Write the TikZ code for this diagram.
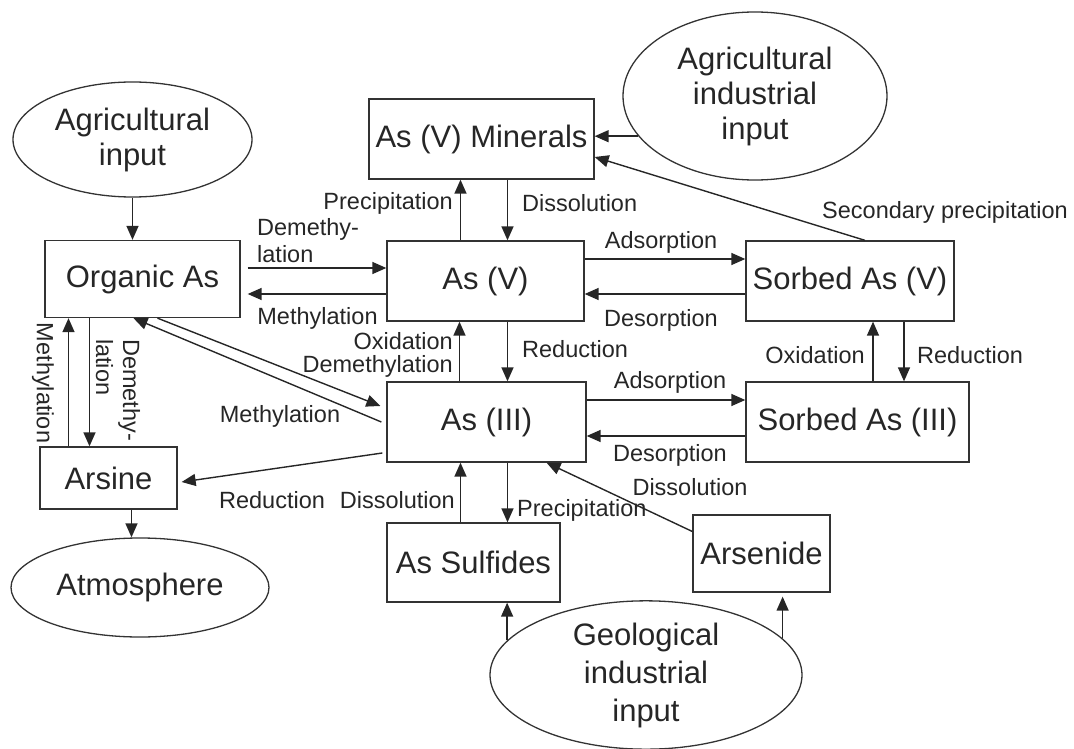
\documentclass[tikz,border=0pt]{standalone}
\usepackage{fontspec}
\setmainfont{Liberation Sans}
\usetikzlibrary{arrows.meta,shapes.geometric}

\begin{document}
\begin{tikzpicture}[x=1pt, y=-1pt,
  species/.style={draw=black!80, line width=1.3pt, inner sep=0pt,
                  font=\fontsize{31}{34}\selectfont, text=black!85},
  source/.style={ellipse, draw=black!80, line width=1.3pt, inner sep=0pt,
                 align=center, font=\fontsize{31}{35}\selectfont, text=black!85},
  flow/.style={-{Triangle[length=14pt,width=12pt]}, line width=1.4pt, black!85},
  process/.style={font=\fontsize{23.5}{27}\selectfont, inner sep=0pt,
                  text=black!85}
]
\useasboundingbox (0,0) rectangle (1074,749);

\node[source, minimum width=239pt, minimum height=115pt] (agin) at (132.5,139.5)
  {Agricultural\\input};
\node[source, minimum width=264pt, minimum height=168pt] (agind) at (755,96)
  {Agricultural\\industrial\\input};
\node[source, minimum width=258pt, minimum height=99pt] (atmos) at (140,587.5)
  {Atmosphere};
\node[source, minimum width=312pt, minimum height=146pt,
      font=\fontsize{31}{38}\selectfont] (geo) at (646,675)
  {Geological\\industrial\\input};

\node[species, minimum width=225pt, minimum height=80pt] (minerals) at (481.5,139)
  {As (V) Minerals};
\node[species, minimum width=195pt, minimum height=77pt] (orgas) at (142.5,279)
  {Organic As};
\node[species, minimum width=197pt, minimum height=80pt] (asv) at (485.5,281)
  {As (V)};
\node[species, minimum width=208pt, minimum height=80pt] (sasv) at (850,281)
  {Sorbed As (V)};
\node[species, minimum width=199pt, minimum height=80pt] (asiii) at (486.5,422)
  {As (III)};
\node[species, minimum width=223pt, minimum height=80pt] (sasiii) at (857.5,422)
  {Sorbed As (III)};
\node[species, minimum width=137pt, minimum height=62pt] (arsine) at (108.5,478)
  {Arsine};
\node[species, minimum width=173pt, minimum height=79pt] (sulfides) at (473.5,562.5)
  {As Sulfides};
\node[species, minimum width=137pt, minimum height=77pt] (arsenide) at (761.5,553.5)
  {Arsenide};

\draw[flow] (agin.south) -- (agin.south |- orgas.north);
\draw[flow] (agind.199) -- (agind.199 -| minerals.east);
\draw[flow] ([xshift=15pt]sasv.north) -- ([yshift=-18pt]minerals.east);
\draw[flow] ([xshift=-25pt]asv.north) -- ([xshift=-25pt]asv.north |- minerals.south);
\draw[flow] ([xshift=22pt]asv.north |- minerals.south) -- ([xshift=22pt]asv.north);
\draw[flow, shorten <=7pt] ([yshift=13pt]asv.west -| orgas.east) -- ([yshift=13pt]asv.west);
\draw[flow, shorten >=7pt] ([yshift=-13pt]asv.west) -- ([yshift=-13pt]asv.west -| orgas.east);
\draw[flow] ([yshift=22pt]asv.east) -- ([yshift=22pt]asv.east -| sasv.west);
\draw[flow] ([yshift=-13pt]asv.east -| sasv.west) -- ([yshift=-13pt]asv.east);
\draw[flow] ([xshift=-26pt]asv.south |- asiii.north) -- ([xshift=-26pt]asv.south);
\draw[flow] ([xshift=22pt]asv.south) -- ([xshift=22pt]asv.south |- asiii.north);
\draw[flow] ([yshift=22pt]asiii.east) -- ([yshift=22pt]asiii.east -| sasiii.west);
\draw[flow] ([yshift=-14pt]asiii.east -| sasiii.west) -- ([yshift=-14pt]asiii.east);
\draw[flow] ([xshift=15.5pt]sasiii.north) -- ([xshift=15.5pt]sasiii.north |- sasv.south);
\draw[flow] ([xshift=46.5pt]sasiii.north |- sasv.south) -- ([xshift=46.5pt]sasiii.north);
\draw[flow] ([xshift=15pt]orgas.south) -- ([xshift=-6pt,yshift=16pt]asiii.west);
\draw[flow] ([xshift=-5pt]asiii.west) -- ([xshift=-9pt]orgas.south);
\draw[flow] ([xshift=-40pt]arsine.north) -- ([xshift=-40pt]arsine.north |- orgas.south);
\draw[flow] ([xshift=-19pt]arsine.north |- orgas.south) -- ([xshift=-19pt]arsine.north);
\draw[flow] ([xshift=-4pt,yshift=-31pt]asiii.west) -- ([xshift=4pt,yshift=-4pt]arsine.east);
\draw[flow] ([xshift=23pt]arsine.south) -- ([xshift=23pt]arsine.south |- atmos.north);
\draw[flow] ([xshift=-26pt]asiii.south |- sulfides.north) -- ([xshift=-26pt]asiii.south);
\draw[flow] ([xshift=21pt]asiii.south) -- ([xshift=21pt]asiii.south |- sulfides.north);
\draw[flow] ([yshift=22pt]arsenide.west) -- ([xshift=60pt]asiii.south);
\draw[flow] (geo.166) -- (geo.166 |- sulfides.south);
\draw[flow, shorten >=4pt] (geo.15) -- (geo.15 |- arsenide.south);

\node[process] (lsecprec) at (945,212) {Secondary precipitation};
\node[process, anchor=east] (lprecmin) at (453,203) {Precipitation};
\node[process, anchor=west] (ldissmin) at (522,203) {Dissolution};
\node[process, anchor=west, align=left] (ldemv) at (257,240.5) {Demethy-\\lation};
\node[process] (lmethv) at (317.5,318) {Methylation};
\node[process] (ladsv) at (661,242) {Adsorption};
\node[process] (ldesv) at (661,320) {Desorption};
\node[process, anchor=east, align=right,
      font=\fontsize{23.5}{23}\selectfont] (loxdem) at (453,354.5)
  {Oxidation\\Demethylation};
\node[process, anchor=west] (lredv) at (522,349) {Reduction};
\node[process] (loxsorb) at (815,355) {Oxidation};
\node[process] (lredsorb) at (970,355) {Reduction};
\node[process] (ladsiii) at (670,382) {Adsorption};
\node[process] (ldesiii) at (670,455) {Desorption};
\node[process] (lmethiii) at (280,416) {Methylation};
\node[process, rotate=-90] (lmetharsine) at (43,383) {Methylation};
\node[process, rotate=-90, align=left] (ldemarsine) at (118,390) {Demethy-\\lation};
\node[process] (lredarsine) at (272,500) {Reduction};
\node[process, anchor=east] (ldisssulf) at (455,500) {Dissolution};
\node[process, anchor=west] (lprecsulf) at (517,510) {Precipitation};
\node[process] (ldissarsenide) at (690,487) {Dissolution};
\end{tikzpicture}
\end{document}
